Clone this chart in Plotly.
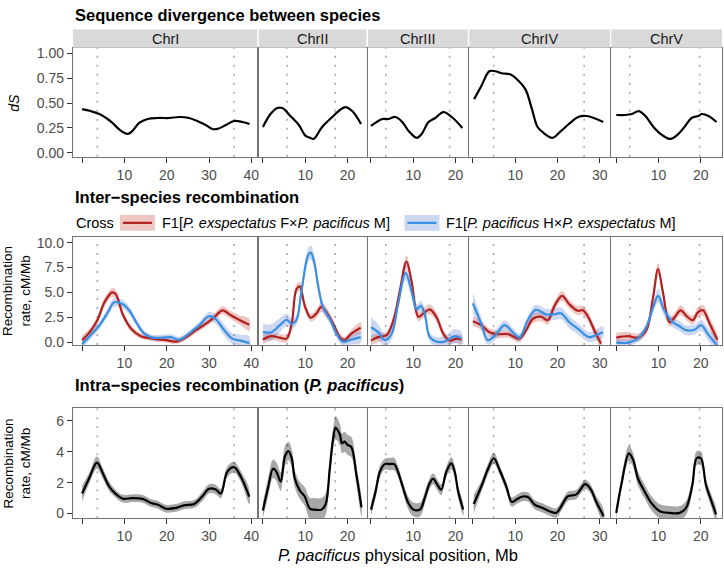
import plotly.graph_objects as go
from plotly.subplots import make_subplots

W, H = 724, 568
ML, MR = 73, 1

CHROMS = ["ChrI", "ChrII", "ChrIII", "ChrIV", "ChrV"]
X_RANGES = {"ChrI": [-2.15, 41.4], "ChrII": [-1.0, 24.5], "ChrIII": [-0.7, 22.9],
            "ChrIV": [-0.85, 32.4], "ChrV": [-1.15, 25.0]}
X_TICKS = {"ChrI": [0, 10, 20, 30, 40], "ChrII": [0, 10, 20], "ChrIII": [0, 10, 20],
           "ChrIV": [0, 10, 20, 30], "ChrV": [0, 10, 20]}
# dotted reference lines (arm boundaries)
ARMS = {"ChrI": [3.6, 35.9], "ChrII": [5.7, 17.1], "ChrIII": [3.5, 18.6],
        "ChrIV": [4.9, 26.3], "ChrV": [3.2, 19.7]}

# --- sequence divergence dS ---
ds_pos = {
    "ChrI": [0, 2, 4.1, 6, 7.2, 9.2, 10.8, 11.9, 13.5, 15.5, 17.8, 20.6, 23, 25.3, 27.7, 29.2, 30.8, 32, 34, 35.9, 37.9, 39.6],
    "ChrII": [0, 1.8, 3.4, 4.6, 6.5, 8.5, 10.1, 11.2, 12.0, 14.0, 16.4, 17.9, 19.5, 21.1, 23.2],
    "ChrIII": [0, 2.7, 4.1, 5.8, 7.4, 8.9, 10.8, 12, 13.6, 15.2, 17.1, 19.1, 21.6],
    "ChrIV": [0.3, 2.1, 3.9, 5.3, 6.8, 8.8, 10.4, 12.4, 13.9, 15.3, 16.7, 18.8, 20.6, 23, 24.9, 26.9, 30.8],
    "ChrV": [0, 2.2, 3.7, 5.3, 6.9, 8.8, 10.8, 12.8, 14.7, 16.3, 17.8, 19.4, 20.2, 21.8, 23.7],
}
ds_val = {
    "ChrI": [0.44, 0.42, 0.39, 0.34, 0.30, 0.22, 0.19, 0.22, 0.30, 0.34, 0.35, 0.35, 0.36, 0.35, 0.31, 0.28, 0.24, 0.24, 0.28, 0.32, 0.31, 0.29],
    "ChrII": [0.26, 0.39, 0.45, 0.45, 0.37, 0.28, 0.17, 0.15, 0.14, 0.26, 0.36, 0.42, 0.46, 0.42, 0.29],
    "ChrIII": [0.27, 0.34, 0.34, 0.36, 0.31, 0.22, 0.15, 0.19, 0.31, 0.35, 0.41, 0.36, 0.25],
    "ChrIV": [0.54, 0.68, 0.82, 0.82, 0.80, 0.79, 0.74, 0.64, 0.45, 0.26, 0.20, 0.15, 0.21, 0.30, 0.36, 0.37, 0.31],
    "ChrV": [0.38, 0.38, 0.39, 0.42, 0.37, 0.26, 0.18, 0.14, 0.19, 0.27, 0.35, 0.37, 0.39, 0.37, 0.31],
}

# --- inter-species: F1[P. exspectatus F x P. pacificus M] ---
exp_pos = {
    "ChrI": [0, 1.8, 3.6, 5.3, 7.1, 8.0, 9.6, 11.6, 13.9, 16.7, 19.8, 22.2, 24.6, 26.9, 29.3, 31.2, 33.2, 34.8, 37.1, 39.5],
    "ChrII": [0, 2, 4, 5.6, 6.8, 7.9, 8.7, 9.9, 11.3, 12.7, 13.8, 15, 16.6, 18.2, 19.3, 20.9, 23.1],
    "ChrIII": [0, 1.7, 3.7, 5.3, 6.8, 8.4, 9.6, 11.2, 12.3, 13.9, 15.5, 17.1, 18.6, 20.2, 21.4],
    "ChrIV": [0, 2, 3.9, 5.9, 8.3, 11, 12.6, 14.2, 16.1, 17.7, 19.3, 21.1, 22.8, 24.8, 26, 27.1, 28.7, 30.3],
    "ChrV": [0, 2.8, 5.1, 7.1, 8.7, 9.9, 11, 12.6, 13.8, 15.2, 16.8, 18.1, 19.3, 20.5, 22.1, 23.9],
}
exp_rate = {
    "ChrI": [0.2, 1.0, 2.2, 4.0, 5.0, 4.8, 2.8, 1.35, 0.6, 0.35, 0.2, 0.05, 0.5, 1.2, 1.85, 2.5, 3.2, 2.8, 2.25, 1.75],
    "ChrII": [0.27, 0.6, 0.45, 0.35, 1.85, 5.3, 5.6, 3.65, 2.45, 2.9, 3.55, 3.0, 1.85, 0.5, 0.2, 0.85, 1.45],
    "ChrIII": [0.15, 0.5, 0.7, 2.2, 5.1, 8.1, 6.1, 2.55, 2.85, 3.3, 2.5, 0.85, 0.15, 0.35, 0.25],
    "ChrIV": [2.1, 1.7, 1.0, 0.8, 0.8, 0.35, 1.2, 2.35, 2.55, 2.2, 3.65, 4.65, 3.8, 3.15, 3.2, 2.65, 1.2, -0.15],
    "ChrV": [0.45, 0.6, 0.45, 1.2, 4.5, 7.35, 5.1, 2.0, 2.5, 3.2, 2.55, 2.2, 3.0, 3.2, 1.85, 0.25],
}
exp_err = {
    "ChrI": [0.5, 0.4, 0.4, 0.45, 0.45, 0.45, 0.35, 0.3, 0.25, 0.25, 0.25, 0.25, 0.25, 0.3, 0.3, 0.35, 0.4, 0.4, 0.45, 0.6],
    "ChrII": [0.5, 0.4, 0.4, 0.4, 0.45, 0.5, 0.5, 0.45, 0.4, 0.45, 0.5, 0.5, 0.45, 0.4, 0.35, 0.4, 0.55],
    "ChrIII": [0.5, 0.45, 0.4, 0.45, 0.55, 0.6, 0.55, 0.45, 0.45, 0.5, 0.5, 0.4, 0.35, 0.4, 0.45],
    "ChrIV": [0.5, 0.45, 0.4, 0.4, 0.35, 0.35, 0.4, 0.45, 0.45, 0.45, 0.5, 0.5, 0.45, 0.45, 0.45, 0.5, 0.5, 0.6],
    "ChrV": [0.5, 0.45, 0.4, 0.45, 0.55, 0.6, 0.55, 0.45, 0.45, 0.5, 0.45, 0.45, 0.5, 0.55, 0.55, 0.6],
}

# --- inter-species: F1[P. pacificus H x P. exspectatus M] ---
pac_pos = {
    "ChrI": [0, 1.8, 4.1, 6.1, 7.6, 9.6, 11.2, 12.8, 14.7, 16.7, 19, 21, 23, 25.3, 27.7, 30, 31.6, 33.6, 35.5, 37.5, 39.5],
    "ChrII": [0, 2, 4, 5.6, 6.8, 7.9, 9.1, 10.7, 11.3, 12.1, 13, 14.2, 15.8, 17.4, 18.9, 20.9, 23.1],
    "ChrIII": [0, 1.7, 3.3, 4.9, 6.4, 8.2, 9.6, 10.8, 11.8, 12.7, 13.9, 15.5, 17.4, 19.8, 21.4],
    "ChrIV": [0, 2, 3.5, 5.1, 7.5, 9.4, 11, 13, 14.9, 17.3, 19.3, 20.8, 22.8, 24.8, 27.5, 29.1, 30.7],
    "ChrV": [0, 2.8, 5.1, 7.1, 8.7, 9.9, 11.4, 13.4, 15, 16.5, 18.5, 20.1, 21.6, 24],
}
pac_rate = {
    "ChrI": [-0.2, 0.6, 1.7, 3.0, 4.0, 3.8, 3.15, 2.0, 0.85, 0.45, 0.45, 0.5, 0.25, 0.85, 1.7, 2.6, 2.3, 1.2, 0.35, 0.15, -0.1],
    "ChrII": [1.0, 1.0, 1.7, 2.25, 1.85, 2.2, 5.1, 8.75, 9.0, 8.1, 5.8, 3.5, 2.35, 0.85, 0.05, 0.25, 0.5],
    "ChrIII": [1.5, 1.0, 0.2, 0.85, 3.8, 6.95, 5.1, 3.3, 3.65, 2.85, 0.5, 0.05, 0.05, 0.6, 0.35],
    "ChrIV": [3.9, 1.85, 0.2, 0.6, 1.7, 1.0, 0.45, 2.2, 3.25, 2.8, 2.8, 2.9, 2.0, 1.35, 0.5, 0.7, 1.0],
    "ChrV": [-0.05, -0.05, 0.35, 1.5, 3.5, 4.65, 3.15, 2.0, 1.6, 1.2, 1.25, 1.7, 0.85, -0.45],
}
pac_err = {
    "ChrI": [0.4, 0.4, 0.35, 0.4, 0.45, 0.45, 0.4, 0.35, 0.3, 0.3, 0.3, 0.3, 0.3, 0.3, 0.35, 0.45, 0.5, 0.55, 0.55, 0.6, 0.7],
    "ChrII": [0.8, 0.8, 0.7, 0.6, 0.55, 0.5, 0.6, 0.7, 0.7, 0.7, 0.6, 0.5, 0.45, 0.4, 0.4, 0.5, 0.6],
    "ChrIII": [1.0, 0.8, 0.6, 0.55, 0.6, 0.7, 0.6, 0.5, 0.5, 0.5, 0.45, 0.45, 0.6, 0.7, 0.7],
    "ChrIV": [1.0, 0.6, 0.45, 0.45, 0.5, 0.45, 0.4, 0.45, 0.5, 0.55, 0.6, 0.6, 0.6, 0.55, 0.5, 0.55, 0.6],
    "ChrV": [0.4, 0.35, 0.35, 0.4, 0.55, 0.7, 0.6, 0.5, 0.5, 0.5, 0.5, 0.55, 0.6, 0.7],
}

# --- intra-species (P. pacificus) ---
intra_pos = {
    "ChrI": [0, 1.7, 3.5, 4.9, 6.4, 8.0, 9.6, 11.9, 14.3, 16.3, 17.8, 19.8, 22.2, 24.1, 26.5, 28.4, 30.0, 31.6, 32.8, 34.3, 35.9, 37.5, 39.5],
    "ChrII": [0, 1.2, 2.4, 3.2, 4.2, 5.2, 6.0, 6.8, 7.5, 8.7, 9.9, 11.1, 12.3, 13.8, 14.8, 15.8, 16.6, 17.2, 18.2, 18.7, 19.3, 20.0, 20.9, 22.1, 23.3],
    "ChrIII": [0, 1.1, 2.1, 3.3, 4.5, 5.5, 6.4, 7.6, 8.8, 10, 11.6, 12.7, 13.9, 14.7, 15.7, 16.6, 17.8, 19, 19.8, 20.6, 21.8],
    "ChrIV": [0.2, 2, 3.5, 4.95, 6.3, 7.9, 9.2, 10.6, 11.8, 13, 14.6, 16.5, 18.1, 19.7, 20.9, 22.4, 24.4, 25.4, 26.5, 27.8, 29.1, 30.9],
    "ChrV": [0, 1.2, 3, 4, 5.1, 6.7, 8.3, 10.3, 12.6, 15, 16.5, 18, 19, 20, 21.2, 22.5, 23.6],
}
intra_rate = {
    "ChrI": [1.3, 2.3, 3.3, 2.6, 1.75, 1.26, 0.96, 1.0, 0.95, 0.68, 0.58, 0.32, 0.36, 0.53, 0.62, 1.1, 1.6, 1.55, 1.3, 2.7, 3.0, 2.4, 1.1],
    "ChrII": [0.2, 1.65, 2.9, 2.7, 2.07, 3.7, 4.05, 3.6, 2.3, 1.5, 1.1, 0.32, 0.25, 0.25, 0.58, 2.9, 4.85, 5.55, 5.1, 4.55, 4.65, 4.45, 4.3, 2.5, 0.4],
    "ChrIII": [0.25, 1.43, 2.7, 3.2, 3.2, 3.2, 2.7, 1.65, 0.7, 0.26, 0.26, 1.0, 1.97, 2.25, 1.86, 1.54, 2.7, 3.25, 2.7, 1.43, 0.26],
    "ChrIV": [0.62, 1.75, 2.83, 3.58, 2.83, 1.75, 0.75, 0.96, 1.1, 1.07, 0.58, 0.36, 0.15, 0.04, 0.47, 1.1, 1.22, 1.54, 1.9, 1.6, 0.8, -0.17],
    "ChrV": [0.04, 1.86, 3.9, 3.47, 2.3, 1.43, 0.68, 0.15, 0.04, 0.04, 0.36, 1.86, 3.58, 3.58, 1.86, 0.8, -0.06],
}
intra_err = {
    "ChrI": [0.5, 0.35, 0.4, 0.35, 0.3, 0.25, 0.25, 0.25, 0.25, 0.25, 0.25, 0.25, 0.25, 0.25, 0.25, 0.3, 0.3, 0.3, 0.3, 0.35, 0.35, 0.35, 0.5],
    "ChrII": [0.5, 0.6, 0.6, 0.6, 0.6, 0.65, 0.6, 0.6, 0.55, 0.55, 0.6, 0.7, 0.75, 0.75, 0.7, 0.7, 0.7, 0.75, 0.7, 0.65, 0.65, 0.65, 0.65, 0.6, 0.6],
    "ChrIII": [0.4, 0.4, 0.4, 0.35, 0.4, 0.4, 0.35, 0.35, 0.4, 0.45, 0.45, 0.4, 0.35, 0.35, 0.35, 0.35, 0.35, 0.4, 0.4, 0.4, 0.4],
    "ChrIV": [0.6, 0.35, 0.35, 0.35, 0.3, 0.3, 0.3, 0.3, 0.3, 0.3, 0.3, 0.3, 0.3, 0.3, 0.3, 0.3, 0.3, 0.3, 0.3, 0.3, 0.35, 0.45],
    "ChrV": [0.4, 0.4, 0.5, 0.45, 0.45, 0.45, 0.45, 0.45, 0.45, 0.45, 0.45, 0.4, 0.45, 0.45, 0.4, 0.4, 0.45],
}

RED, RED_FILL = "#B2201F", "rgba(200,70,55,0.30)"
BLUE, BLUE_FILL = "#3A8FE3", "rgba(95,130,215,0.32)"
GREY_FILL = "rgba(0,0,0,0.34)"
FONT = "Liberation Sans, Arial, Helvetica, sans-serif"
AXIS_COL = "#737373"
TICK_TXT = "#4D4D4D"


def py(pix):
    return 1 - pix / H


def px(pix):
    return (pix - ML) / (W - ML - MR)


def note(x, y, text, size, xanchor="center", angle=0, xref="paper", color="black"):
    fig.add_annotation(xref=xref, yref="paper", x=x, y=y, text=text, showarrow=False,
                       xanchor=xanchor, yanchor="middle", textangle=angle,
                       font=dict(size=size, color=color))


widths = [X_RANGES[c][1] - X_RANGES[c][0] for c in CHROMS]
fig = make_subplots(rows=3, cols=5, column_widths=widths,
                    horizontal_spacing=0.0022, vertical_spacing=0.05)

ROW_DOMAINS = {1: [py(156), py(45.5)], 2: [py(347), py(237.5)], 3: [py(522.5), py(411)]}
Y_RANGES = {1: [-0.04, 1.055], 2: [-0.3, 10.55], 3: [-0.3, 6.82]}
Y_TICKS = {1: ([0, 0.25, 0.5, 0.75, 1.0], ["0.00", "0.25", "0.50", "0.75", "1.00"]),
           2: ([0, 2.5, 5, 7.5, 10], ["0.0", "2.5", "5.0", "7.5", "10.0"]),
           3: ([0, 2, 4, 6], ["0", "2", "4", "6"])}


def ribbon(xs, ys, es, fill, row, col):
    upper = [y + e for y, e in zip(ys, es)]
    lower = [y - e for y, e in zip(ys, es)]
    fig.add_trace(go.Scatter(x=list(xs) + list(xs)[::-1], y=upper + lower[::-1],
                             fill="toself", fillcolor=fill, line=dict(width=0),
                             line_shape="spline", mode="lines", hoverinfo="skip",
                             showlegend=False), row=row, col=col)


def curve(xs, ys, color, row, col, width=2.2):
    fig.add_trace(go.Scatter(x=xs, y=ys, mode="lines", line=dict(color=color, width=width),
                             line_shape="spline", showlegend=False), row=row, col=col)


for ci, chrom in enumerate(CHROMS, start=1):
    # row 1 : dS
    curve(ds_pos[chrom], ds_val[chrom], "black", 1, ci)
    # row 2 : inter-species crosses
    ribbon(exp_pos[chrom], exp_rate[chrom], exp_err[chrom], RED_FILL, 2, ci)
    ribbon(pac_pos[chrom], pac_rate[chrom], pac_err[chrom], BLUE_FILL, 2, ci)
    curve(exp_pos[chrom], exp_rate[chrom], RED, 2, ci)
    curve(pac_pos[chrom], pac_rate[chrom], BLUE, 2, ci)
    # row 3 : intra-species
    ribbon(intra_pos[chrom], intra_rate[chrom], intra_err[chrom], GREY_FILL, 3, ci)
    curve(intra_pos[chrom], intra_rate[chrom], "black", 3, ci)

    for r in (1, 2, 3):
        for a in ARMS[chrom]:
            fig.add_vline(x=a, row=r, col=ci, layer="below",
                          line=dict(color="#A8A8A8", width=1.6, dash="2px,7px"))
        ticks = X_TICKS[chrom]
        fig.update_xaxes(range=X_RANGES[chrom], tickvals=ticks,
                         ticktext=["" if t == 0 else str(t) for t in ticks],
                         row=r, col=ci)
        fig.update_yaxes(range=Y_RANGES[r], domain=ROW_DOMAINS[r],
                         tickvals=Y_TICKS[r][0], ticktext=Y_TICKS[r][1],
                         showticklabels=(ci == 1), ticks="outside" if ci == 1 else "",
                         row=r, col=ci)

    # strip
    xref = "x domain" if ci == 1 else f"x{ci} domain"
    fig.add_shape(type="rect", xref=xref, yref="paper", x0=0, x1=1,
                  y0=py(45.5), y1=py(27), fillcolor="#D9D9D9", line_width=0)
    note(0.5, py(36.5), chrom, 14.5, xref=xref, color="#1A1A1A")

fig.update_xaxes(showgrid=False, zeroline=False, showline=True, mirror=True,
                 linecolor=AXIS_COL, linewidth=1.3, ticks="outside", ticklen=5,
                 tickwidth=1.3, tickcolor="#333333",
                 tickfont=dict(size=14, color=TICK_TXT))
fig.update_yaxes(showgrid=False, zeroline=False, showline=True, mirror=True,
                 linecolor=AXIS_COL, linewidth=1.3, ticklen=5,
                 tickwidth=1.3, tickcolor="#333333",
                 tickfont=dict(size=14, color=TICK_TXT))

# section titles
titles = [("Sequence divergence between species", 12),
          ("Inter\u2212species recombination", 197),
          ("Intra\u2212species recombination (<i>P. pacificus</i>)", 387)]
for txt, yy in titles:
    note(0, py(yy), f"<b>{txt}</b>", 16.5, xanchor="left")

# y-axis titles
note(px(13), py(101), "<i>dS</i>", 14, angle=-90)
for yy in (292, 467):
    note(px(17), py(yy), "Recombination<br>rate, cM/Mb", 13.5, angle=-90)

# x-axis title
note(0.5, py(560), "<i>P. pacificus</i> physical position, Mb", 16.5)

# legend (drawn manually)
note(px(74), py(223), "Cross", 14.5, xanchor="left")
legend_items = [(120, RED, RED_FILL, "F1[<i>P. exspectatus</i> F\u00d7<i>P. pacificus</i> M]"),
                (405, BLUE, BLUE_FILL, "F1[<i>P. pacificus</i> H\u00d7<i>P. exspectatus</i> M]")]
for x0, col, fill, lab in legend_items:
    fig.add_shape(type="rect", xref="paper", yref="paper", x0=px(x0), x1=px(x0 + 35),
                  y0=py(231), y1=py(215), fillcolor=fill, line_width=0)
    fig.add_shape(type="line", xref="paper", yref="paper", x0=px(x0 + 3), x1=px(x0 + 32),
                  y0=py(223), y1=py(223), line=dict(color=col, width=2.2))
    note(px(x0 + 40), py(223), lab, 14.5, xanchor="left")

fig.update_layout(width=W, height=H, margin=dict(l=ML, r=MR, t=0, b=0),
                  plot_bgcolor="white", paper_bgcolor="white",
                  font=dict(family=FONT, color="black"), showlegend=False)

fig.write_html("out.html", config={"displayModeBar": False},
               post_script="document.body.style.margin='0px';")
